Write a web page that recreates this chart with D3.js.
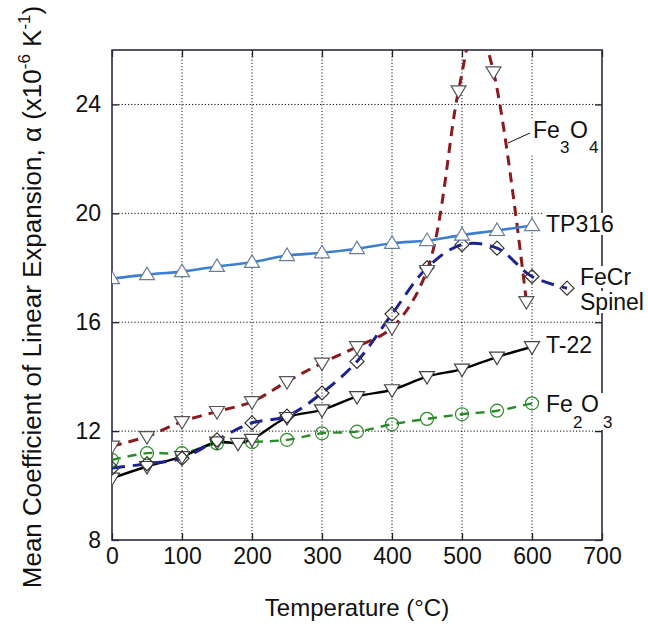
<!DOCTYPE html>
<html><head><meta charset="utf-8">
<script src="https://cdn.jsdelivr.net/npm/d3@7"></script>
<style>html,body{margin:0;padding:0;background:#fff;}svg{display:block;font-family:"Liberation Sans",Arial,sans-serif;}</style>
</head><body>
<svg id="c" width="648" height="624"></svg>
<script>
// ---- data ----
const xTicks = [0,100,200,300,400,500,600,700];
const yTicks = [8,12,16,20,24];

const tempTP316 = [0,50,100,150,200,250,300,350,400,450,500,550,600];
const valTP316  = [17.6,17.75,17.86,18.05,18.2,18.45,18.55,18.7,18.9,19.0,19.2,19.37,19.55];

const tempT22 = [0,50,100,150,180,200,250,300,350,400,450,500,550,600];
const valT22  = [10.27,10.7,11.06,11.6,11.55,11.7,12.5,12.78,13.27,13.52,14.0,14.28,14.72,15.1];

const tempFe2O3 = [0,50,100,150,200,250,300,350,400,450,500,550,600];
const valFe2O3  = [10.94,11.19,11.19,11.55,11.6,11.68,11.92,11.98,12.25,12.45,12.62,12.75,13.02];

const tempFeCr = [0,50,100,150,200,250,300,350,400,450,500,550,600,650];
const valFeCr  = [10.64,10.8,11.0,11.68,12.3,12.55,13.4,14.56,16.3,18.0,18.85,18.72,17.68,17.25];

const tempFe3O4 = [0,50,100,150,200,250,300,350,400,450,495,520,545,592];
const valFe3O4  = [11.45,11.8,12.35,12.72,13.08,13.82,14.5,15.1,15.8,17.9,24.5,27.0,25.2,16.76];

// ---- layout ----
const L = 112, T = 50, W = 490, H = 490;
const svg = d3.select("#c");
const x = d3.scaleLinear().domain([0,700]).range([L, L+W]);
const y = d3.scaleLinear().domain([8,26]).range([T+H, T]);

svg.append("defs").append("clipPath").attr("id","clip")
  .append("rect").attr("x",L).attr("y",T).attr("width",W).attr("height",H);

// grid
const grid = svg.append("g").attr("stroke","#111").attr("stroke-width",1).attr("stroke-dasharray","1.2,2");
grid.selectAll("line.gx").data(xTicks.slice(1,-1)).join("line")
  .attr("x1",d=>x(d)).attr("x2",d=>x(d)).attr("y1",T).attr("y2",T+H);
grid.selectAll("line.gy").data(yTicks.slice(1)).join("line")
  .attr("y1",d=>y(d)).attr("y2",d=>y(d)).attr("x1",L).attr("x2",L+W);

// axes (inner ticks)
const fs = 23;
const ax = (g)=>{g.selectAll("text").attr("font-size",fs).attr("fill","#111").attr("font-family","Liberation Sans, Arial, sans-serif");
  g.select(".domain").remove(); g.selectAll("line").attr("stroke","#222").attr("stroke-width",1.3);};
svg.append("g").attr("transform",`translate(0,${T+H})`)
  .call(d3.axisBottom(x).tickValues(xTicks).tickSize(-7).tickPadding(8).tickFormat(d3.format("d"))).call(ax);
svg.append("g").attr("transform",`translate(${L},0)`)
  .call(d3.axisLeft(y).tickValues(yTicks).tickSize(-7).tickPadding(11).tickFormat(d3.format("d"))).call(ax);
svg.append("g").attr("transform",`translate(0,${T})`)
  .call(d3.axisTop(x).tickValues(xTicks).tickSize(-7).tickFormat("")).call(ax);
svg.append("g").attr("transform",`translate(${L+W},0)`)
  .call(d3.axisRight(y).tickValues(yTicks).tickSize(-7).tickFormat("")).call(ax);

// frame
svg.append("rect").attr("x",L).attr("y",T).attr("width",W).attr("height",H)
  .attr("fill","none").attr("stroke","#2a2a44").attr("stroke-width",1.6);

// series
const series = [
  {t:tempFe2O3, v:valFe2O3, color:"#2b8a2b", dash:"9,7", w:2.4, mark:"circle", mstroke:"#2b8a2b", mfill:"none"},
  {t:tempT22,   v:valT22,   color:"#000",    dash:null,  w:2.4, mark:"tdown",  mstroke:"#444", mfill:"#fff"},
  {t:tempFeCr,  v:valFeCr,  color:"#1c2290", dash:"13,8", w:3,   mark:"diamond",mstroke:"#333", mfill:"none"},
  {t:tempFe3O4, v:valFe3O4, color:"#8a1a1e", dash:"10,7", w:3,   mark:"tdown",  mstroke:"#555", mfill:"#fff"},
  {t:tempTP316, v:valTP316, color:"#3c7fd2", dash:null,  w:2.6, mark:"tup",    mstroke:"#6a7f99", mfill:"#fff"}
];
const line = d3.line().x(d=>x(d[0])).y(d=>y(d[1])).curve(d3.curveCatmullRom.alpha(0.5));
const plot = svg.append("g").attr("clip-path","url(#clip)");
series.forEach(s=>{
  const pts = s.t.map((t,i)=>[t,s.v[i]]);
  plot.append("path").datum(pts).attr("d",line).attr("fill","none")
    .attr("stroke",s.color).attr("stroke-width",s.w).attr("stroke-dasharray",s.dash);
});
const tri = 7.5;
series.forEach(s=>{
  const pts = s.t.map((t,i)=>[t,s.v[i]]);
  const g = plot.append("g");
  pts.forEach(p=>{
    const cx = x(p[0]), cy = y(p[1]);
    let el;
    if (s.mark==="circle") el = g.append("circle").attr("cx",cx).attr("cy",cy).attr("r",6.5);
    else if (s.mark==="diamond") el = g.append("path").attr("d",`M${cx},${cy-7}L${cx+7},${cy}L${cx},${cy+7}L${cx-7},${cy}Z`);
    else if (s.mark==="tdown") el = g.append("path").attr("d",`M${cx-tri},${cy-5}L${cx+tri},${cy-5}L${cx},${cy+7.5}Z`);
    else el = g.append("path").attr("d",`M${cx-tri},${cy+5}L${cx+tri},${cy+5}L${cx},${cy-7.5}Z`);
    el.attr("fill",s.mfill).attr("stroke",s.mstroke).attr("stroke-width",1.2);
  });
});

// labels with white background
function label(parts, bx, by){
  const g = svg.append("g");
  const r = g.append("rect").attr("fill","#fff");
  const t = g.append("text").attr("font-size",fs).attr("fill","#111");
  parts.forEach(p=>{
    t.append("tspan").attr("x",bx+p[1]).attr("y",by+p[2]).attr("font-size",p[3]||fs).text(p[0]);
  });
  const b = t.node().getBBox();
  r.attr("x",b.x-2).attr("y",b.y+2).attr("width",b.width+4).attr("height",b.height-4);
}
label([["Fe",0,0],["3",27,15,17],["O",37,0],["4",56,15,17]], 533, 138);
svg.append("line").attr("x1",508).attr("y1",143).attr("x2",530).attr("y2",133).attr("stroke","#111").attr("stroke-width",1);
label([["TP316",0,0]], 546, 232);
label([["FeCr",0,0]], 580, 285);
label([["Spinel",0,0]], 580, 310);
label([["T-22",0,0]], 546, 353);
label([["Fe",0,0],["2",27,16,17],["O",35,0],["3",57,16,17]], 546, 412);

// axis titles
svg.append("text").attr("x",L+W/2).attr("y",616).attr("text-anchor","middle")
  .attr("font-size",fs+1).attr("fill","#111").text("Temperature (°C)");
const yt = svg.append("text").attr("transform","translate(41,297) rotate(-90)")
  .attr("text-anchor","middle").attr("font-size",26).attr("fill","#111");
yt.append("tspan").text("Mean Coefficient of Linear Expansion, α (x10");
yt.append("tspan").attr("font-size",17).attr("dy",-11).text("-6");
yt.append("tspan").attr("dy",11).text(" K");
yt.append("tspan").attr("font-size",17).attr("dy",-11).text("-1");
yt.append("tspan").attr("dy",11).text(")");
</script>
</body></html>
